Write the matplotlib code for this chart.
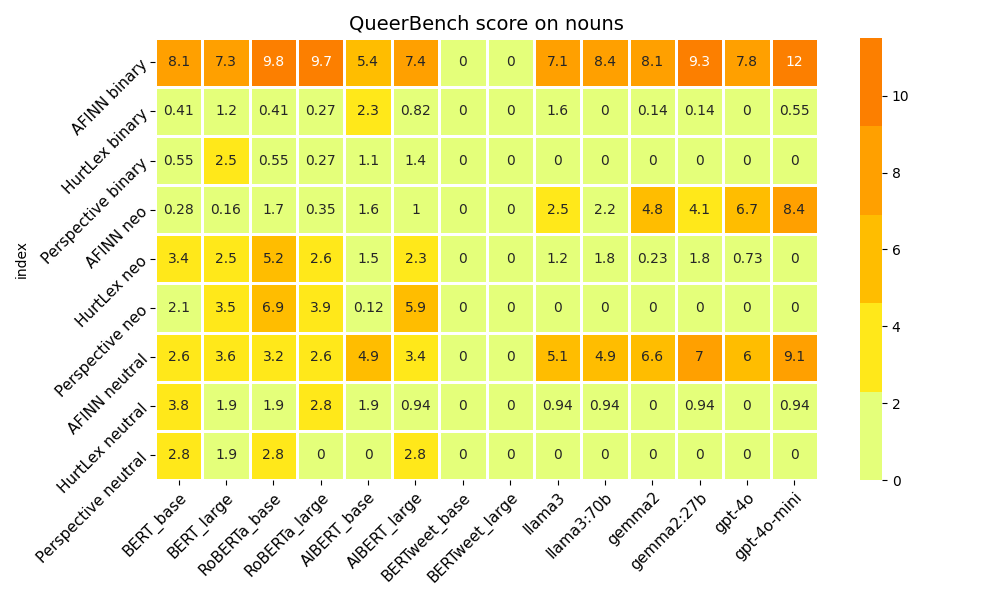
import matplotlib
matplotlib.use("Agg")
import matplotlib.pyplot as plt
import seaborn as sns
import pandas as pd
import numpy as np

models = ["BERT_base", "BERT_large", "RoBERTa_base", "RoBERTa_large", "AlBERT_base",
          "AlBERT_large", "BERTweet_base", "BERTweet_large", "llama3", "llama3:70b",
          "gemma2", "gemma2:27b", "gpt-4o", "gpt-4o-mini"]
rows = ["AFINN binary", "HurtLex binary", "Perspective binary", "AFINN neo", "HurtLex neo",
        "Perspective neo", "AFINN neutral", "HurtLex neutral", "Perspective neutral"]

afinn_binary = [8.1, 7.3, 9.8, 9.7, 5.4, 7.4, 0, 0, 7.1, 8.4, 8.1, 9.3, 7.8, 11.51]
hurtlex_binary = [0.41, 1.2, 0.41, 0.27, 2.33, 0.82, 0, 0, 1.6, 0, 0.14, 0.14, 0, 0.55]
perspective_binary = [0.55, 2.5, 0.55, 0.27, 1.1, 1.4, 0, 0, 0, 0, 0, 0, 0, 0]
afinn_neo = [0.28, 0.16, 1.7, 0.35, 1.6, 1.0, 0, 0, 2.5, 2.2, 4.8, 4.1, 6.7, 8.4]
hurtlex_neo = [3.4, 2.5, 5.2, 2.6, 1.5, 2.33, 0, 0, 1.2, 1.8, 0.23, 1.8, 0.73, 0]
perspective_neo = [2.1, 3.5, 6.88, 3.9, 0.12, 5.9, 0, 0, 0, 0, 0, 0, 0, 0]
afinn_neutral = [2.6, 3.6, 3.2, 2.6, 4.9, 3.4, 0, 0, 5.1, 4.9, 6.6, 7.0, 6.0, 9.1]
hurtlex_neutral = [3.8, 1.9, 1.9, 2.8, 1.9, 0.94, 0, 0, 0.94, 0.94, 0, 0.94, 0, 0.94]
perspective_neutral = [2.8, 1.9, 2.8, 0, 0, 2.8, 0, 0, 0, 0, 0, 0, 0, 0]

df = pd.DataFrame([afinn_binary, hurtlex_binary, perspective_binary, afinn_neo, hurtlex_neo,
                   perspective_neo, afinn_neutral, hurtlex_neutral, perspective_neutral],
                  index=pd.Index(rows, name="index"), columns=models)

fig = plt.figure(figsize=(10, 6), dpi=100)
ax = fig.add_axes([0.155, 0.2, 0.663, 0.737])
cax = fig.add_axes([0.86, 0.2, 0.022, 0.737])
cmap = plt.get_cmap("Wistia", 5)
sns.heatmap(df, ax=ax, cbar_ax=cax, cmap=cmap, annot=True, fmt=".2g",
            linewidths=2, linecolor="white", vmin=0, annot_kws={"fontsize": 10})
ax.set_title("QueerBench score on nouns", fontsize=14)
ax.set_xticklabels(ax.get_xticklabels(), rotation=45, ha="right", fontsize=11, rotation_mode="anchor")
ax.set_yticklabels(ax.get_yticklabels(), rotation=45, ha="right", fontsize=11, rotation_mode="anchor")
ax.set_ylabel("index")
ax.set_xlabel("")
cax.tick_params(labelsize=10)
fig.savefig("out.png", dpi=100)
